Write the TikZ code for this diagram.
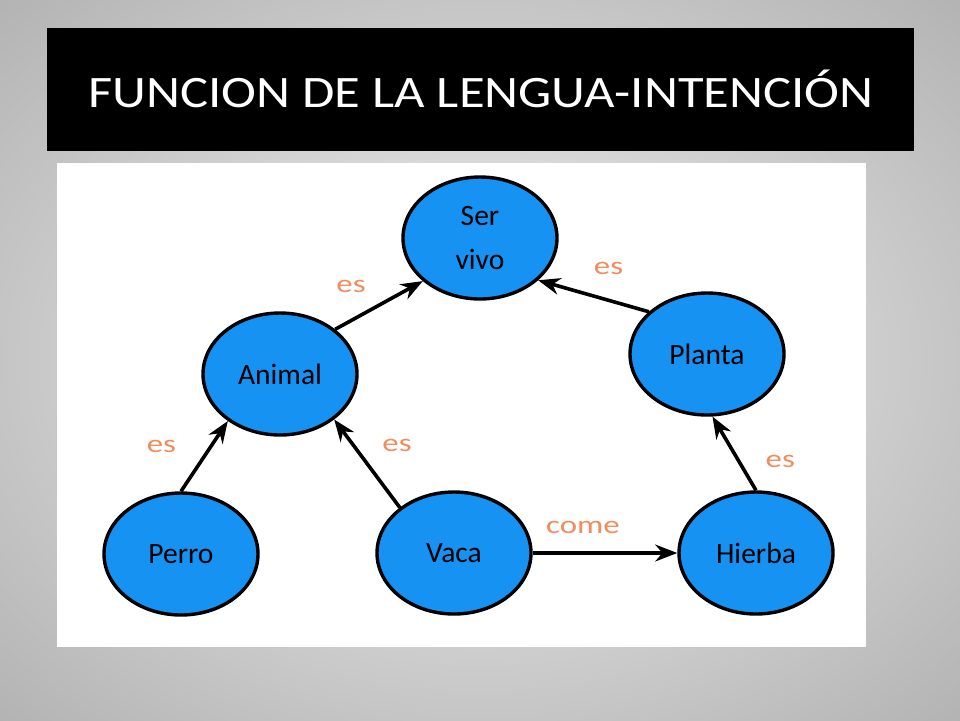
\documentclass[tikz,border=0pt]{standalone}
\usepackage{fontspec}
\setmainfont{Carlito}
\newfontfamily\titlefont[FakeStretch=1.17]{Carlito}
\newfontfamily\labelfont[FakeStretch=1.3]{Carlito}
\usepackage{xcolor}
\usepackage{tikz}
\usetikzlibrary{arrows.meta, shapes.geometric}
\definecolor{bgin}{RGB}{240,240,240}
\definecolor{bgout}{RGB}{118,118,118}
\definecolor{nodeblue}{RGB}{22,146,242}
\definecolor{lblorange}{RGB}{242,140,92}
\pgfdeclareradialshading{slidebg}{\pgfpoint{0bp}{0bp}}{color(0bp)=(bgin); color(71bp)=(bgout)}
\tikzset{
  %Concept map
  fl-node/.style={ellipse, draw=black, line width=0.85mm, fill=nodeblue, minimum width=38.5mm, minimum height=30.5mm, inner sep=0pt, font=\fontsize{21}{25}\selectfont, align=center},
  fl-arrow/.style={-{Stealth[length=5.5mm, width=4.2mm]}, line width=0.9mm},
  fl-label/.style={text=lblorange, font=\labelfont\fontsize{18}{21}\selectfont, inner sep=0pt}
}
\begin{document}
\begin{tikzpicture}[x=0.25mm, y=-0.25mm]
    \useasboundingbox (0,0) rectangle (960,720);
    % --- Background ---
    \shade[shading=slidebg] (0,0) rectangle (960,720);
    % --- Title ---
    \fill[black] (47,28) rectangle (914,151);
    \node[text=white, anchor=base, font=\titlefont\fontsize{32}{38}\selectfont] (title) at (481,107) {FUNCION DE LA LENGUA-INTENCIÓN};
    % --- Panel ---
    \fill[white] (57,163) rectangle (866,647);
    % Nodes
    \node[fl-node] (servivo) at (480,238) {Ser\\[6pt]vivo};
    \node[fl-node] (animal) at (280,374) {Animal};
    \node[fl-node] (planta) at (707,354) {Planta};
    \node[fl-node] (perro) at (181,554) {Perro};
    \node[fl-node] (vaca) at (454,553) {Vaca};
    \node[fl-node] (hierba) at (756,553) {Hierba};
    % Arrows
    \draw[fl-arrow] (animal.39) -- node[fl-label, shift={(-28,-19)}] {es} (servivo.217);
    \draw[fl-arrow] (planta.144) -- node[fl-label, shift={(15,-28)}] {es} (servivo.-36);
    \draw[fl-arrow] (perro.90) -- node[fl-label, shift={(-43,-10)}] {es} (animal.222);
    \draw[fl-arrow] (vaca.140) -- node[fl-label, shift={(30,-18)}] {es} (animal.-40);
    \draw[fl-arrow] (hierba.90) -- node[fl-label, shift={(46,8)}] {es} (planta.-85);
    \draw[fl-arrow] (vaca) -- node[fl-label, shift={(-22,-26)}] {come} (hierba);
\end{tikzpicture}
\end{document}
